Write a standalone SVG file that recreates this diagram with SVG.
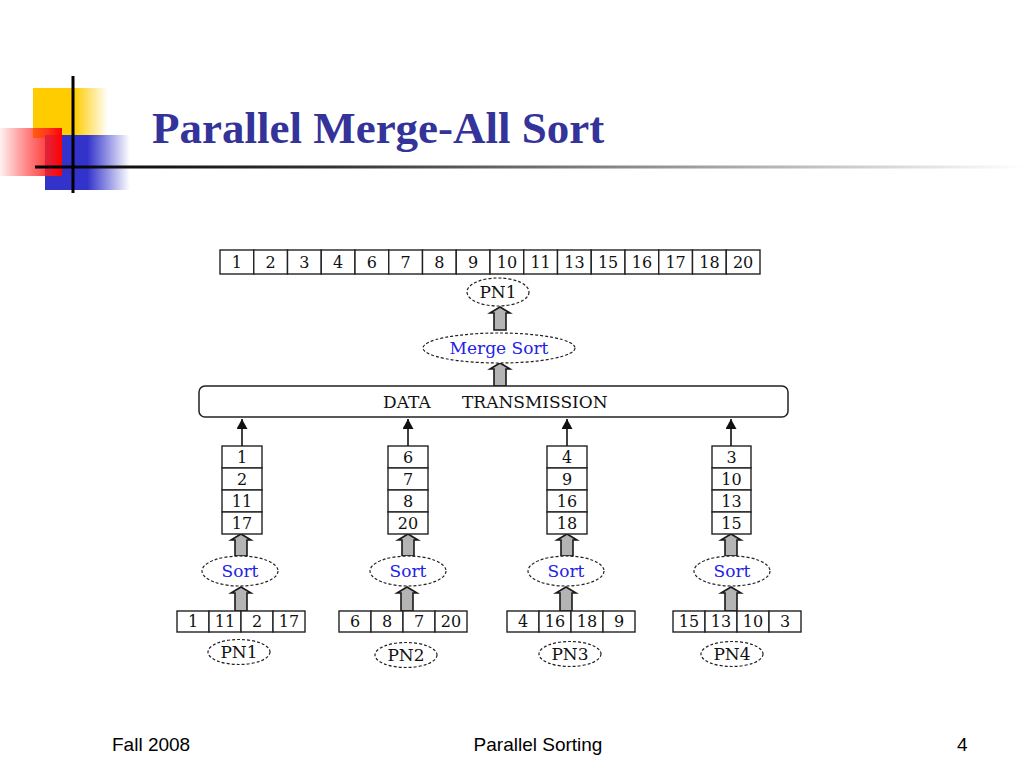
<svg xmlns="http://www.w3.org/2000/svg" width="1024" height="768" viewBox="0 0 1024 768">
<style>
.cell{fill:#fff;stroke:#222;stroke-width:1.4}
.num{font-family:"DejaVu Serif","Liberation Serif",serif;font-size:16px;fill:#111;text-anchor:middle}
.lbl{font-family:"DejaVu Serif","Liberation Serif",serif;font-size:17px;fill:#111;text-anchor:middle}
.lbls{font-family:"DejaVu Serif","Liberation Serif",serif;font-size:17px;fill:#111;text-anchor:start}
.blue{fill:#2222e6}
.oval{fill:#fff;stroke:#222;stroke-width:1.2;stroke-dasharray:3 2}
.garrow{fill:#b4b4b4;stroke:#1a1a1a;stroke-width:1.6;stroke-linejoin:miter}
.thin{stroke:#111;stroke-width:1.6;fill:none}
.foot{font-family:"Liberation Sans","DejaVu Sans",sans-serif;font-size:19px;fill:#000}
</style>
<defs>
<linearGradient id="gy" x1="0" y1="0" x2="1" y2="0"><stop offset="0" stop-color="#ffcc00"/><stop offset="0.55" stop-color="#ffcc00"/><stop offset="1" stop-color="#ffcc00" stop-opacity="0"/></linearGradient>
<linearGradient id="gb" x1="0" y1="0" x2="1" y2="0"><stop offset="0" stop-color="#3333cc"/><stop offset="0.5" stop-color="#3333cc"/><stop offset="1" stop-color="#3333cc" stop-opacity="0"/></linearGradient>
<linearGradient id="gr" x1="0" y1="0" x2="1" y2="0"><stop offset="0" stop-color="#ff0000" stop-opacity="0.05"/><stop offset="0.75" stop-color="#ff2020" stop-opacity="0.85"/><stop offset="1" stop-color="#ff0000"/></linearGradient>
<linearGradient id="gl" x1="0" y1="0" x2="1" y2="0"><stop offset="0" stop-color="#000"/><stop offset="0.3" stop-color="#333"/><stop offset="1" stop-color="#fff"/></linearGradient>
<marker id="ah" markerUnits="userSpaceOnUse" markerWidth="11" markerHeight="11" refX="10" refY="5.5" orient="auto"><path d="M0,0 L10,5.5 L0,11 z" fill="#111"/></marker>
</defs>

<g id="title-decoration">
<rect x="33" y="88" width="75" height="50" fill="url(#gy)"/>
<rect x="45" y="135" width="85" height="55" fill="url(#gb)"/>
<rect x="0" y="128" width="62" height="48" fill="url(#gr)"/>
<rect x="35" y="165.5" width="989" height="3" fill="url(#gl)"/>
<rect x="71.5" y="76" width="3" height="117" fill="#000"/>
</g>
<text x="152" y="143" font-family="'Liberation Serif','Times New Roman',serif" font-weight="bold" font-size="45" fill="#333399">Parallel Merge-All Sort</text>

<g id="connectors">
<polygon class="garrow" points="494,330 494,313 490,313 500,307 510,313 506,313 506,330"/>
<polygon class="garrow" points="494,386 494,369 490,369 500,363 510,369 506,369 506,386"/>
<line class="thin" x1="242" y1="446" x2="242" y2="419" marker-end="url(#ah)"/>
<line class="thin" x1="408" y1="446" x2="408" y2="419" marker-end="url(#ah)"/>
<line class="thin" x1="567" y1="446" x2="567" y2="419" marker-end="url(#ah)"/>
<line class="thin" x1="731" y1="446" x2="731" y2="419" marker-end="url(#ah)"/>
<polygon class="garrow" points="235,556 235,540 231,540 241,534 251,540 247,540 247,556"/>
<polygon class="garrow" points="402,556 402,540 398,540 408,534 418,540 414,540 414,556"/>
<polygon class="garrow" points="561,556 561,540 557,540 567,534 577,540 573,540 573,556"/>
<polygon class="garrow" points="725,556 725,540 721,540 731,534 741,540 737,540 737,556"/>
<polygon class="garrow" points="235,611 235,593 231,593 241,587 251,593 247,593 247,611"/>
<polygon class="garrow" points="401,611 401,593 397,593 407,587 417,593 413,593 413,611"/>
<polygon class="garrow" points="560,611 560,593 556,593 566,587 576,593 572,593 572,611"/>
<polygon class="garrow" points="725,611 725,593 721,593 731,587 741,593 737,593 737,611"/>
</g>

<g id="result-array">
<rect class="cell" x="220" y="250" width="33.75" height="24"/><text class="num" x="236.9" y="268">1</text>
<rect class="cell" x="253.75" y="250" width="33.75" height="24"/><text class="num" x="270.6" y="268">2</text>
<rect class="cell" x="287.5" y="250" width="33.75" height="24"/><text class="num" x="304.4" y="268">3</text>
<rect class="cell" x="321.25" y="250" width="33.75" height="24"/><text class="num" x="338.1" y="268">4</text>
<rect class="cell" x="355" y="250" width="33.75" height="24"/><text class="num" x="371.9" y="268">6</text>
<rect class="cell" x="388.75" y="250" width="33.75" height="24"/><text class="num" x="405.6" y="268">7</text>
<rect class="cell" x="422.5" y="250" width="33.75" height="24"/><text class="num" x="439.4" y="268">8</text>
<rect class="cell" x="456.25" y="250" width="33.75" height="24"/><text class="num" x="473.1" y="268">9</text>
<rect class="cell" x="490" y="250" width="33.75" height="24"/><text class="num" x="506.9" y="268">10</text>
<rect class="cell" x="523.75" y="250" width="33.75" height="24"/><text class="num" x="540.6" y="268">11</text>
<rect class="cell" x="557.5" y="250" width="33.75" height="24"/><text class="num" x="574.4" y="268">13</text>
<rect class="cell" x="591.25" y="250" width="33.75" height="24"/><text class="num" x="608.1" y="268">15</text>
<rect class="cell" x="625" y="250" width="33.75" height="24"/><text class="num" x="641.9" y="268">16</text>
<rect class="cell" x="658.75" y="250" width="33.75" height="24"/><text class="num" x="675.6" y="268">17</text>
<rect class="cell" x="692.5" y="250" width="33.75" height="24"/><text class="num" x="709.4" y="268">18</text>
<rect class="cell" x="726.25" y="250" width="33.75" height="24"/><text class="num" x="743.1" y="268">20</text>
</g>

<g id="pn1-top">
<ellipse class="oval" cx="498" cy="292" rx="31" ry="14"/>
<text class="lbl" x="498" y="298">PN1</text>
</g>

<g id="merge-sort">
<ellipse class="oval" cx="499" cy="348" rx="76" ry="15"/>
<text class="lbl blue" x="499" y="354">Merge Sort</text>
</g>

<g id="data-transmission">
<rect x="199" y="386" width="589" height="31" rx="6" fill="#fff" stroke="#222" stroke-width="1.5"/>
<text class="lbls" x="383" y="408">DATA</text>
<text class="lbls" x="462" y="408">TRANSMISSION</text>
</g>

<g id="sorted-1">
<rect class="cell" x="222" y="446" width="40" height="22"/><text class="num" x="242" y="463">1</text>
<rect class="cell" x="222" y="468" width="40" height="22"/><text class="num" x="242" y="485">2</text>
<rect class="cell" x="222" y="490" width="40" height="22"/><text class="num" x="242" y="507">11</text>
<rect class="cell" x="222" y="512" width="40" height="22"/><text class="num" x="242" y="529">17</text>
</g>
<g id="sorted-2">
<rect class="cell" x="388" y="446" width="40" height="22"/><text class="num" x="408" y="463">6</text>
<rect class="cell" x="388" y="468" width="40" height="22"/><text class="num" x="408" y="485">7</text>
<rect class="cell" x="388" y="490" width="40" height="22"/><text class="num" x="408" y="507">8</text>
<rect class="cell" x="388" y="512" width="40" height="22"/><text class="num" x="408" y="529">20</text>
</g>
<g id="sorted-3">
<rect class="cell" x="547" y="446" width="40" height="22"/><text class="num" x="567" y="463">4</text>
<rect class="cell" x="547" y="468" width="40" height="22"/><text class="num" x="567" y="485">9</text>
<rect class="cell" x="547" y="490" width="40" height="22"/><text class="num" x="567" y="507">16</text>
<rect class="cell" x="547" y="512" width="40" height="22"/><text class="num" x="567" y="529">18</text>
</g>
<g id="sorted-4">
<rect class="cell" x="712" y="446" width="39" height="22"/><text class="num" x="731.5" y="463">3</text>
<rect class="cell" x="712" y="468" width="39" height="22"/><text class="num" x="731.5" y="485">10</text>
<rect class="cell" x="712" y="490" width="39" height="22"/><text class="num" x="731.5" y="507">13</text>
<rect class="cell" x="712" y="512" width="39" height="22"/><text class="num" x="731.5" y="529">15</text>
</g>

<g id="sort-1"><ellipse class="oval" cx="240" cy="571" rx="38" ry="15"/><text class="lbl blue" x="240" y="577">Sort</text></g>
<g id="sort-2"><ellipse class="oval" cx="408" cy="571" rx="38" ry="15"/><text class="lbl blue" x="408" y="577">Sort</text></g>
<g id="sort-3"><ellipse class="oval" cx="566" cy="571" rx="38" ry="15"/><text class="lbl blue" x="566" y="577">Sort</text></g>
<g id="sort-4"><ellipse class="oval" cx="732" cy="571" rx="38" ry="15"/><text class="lbl blue" x="732" y="577">Sort</text></g>

<g id="input-1">
<rect class="cell" x="177" y="611" width="32" height="21"/><text class="num" x="193" y="627">1</text>
<rect class="cell" x="209" y="611" width="32" height="21"/><text class="num" x="225" y="627">11</text>
<rect class="cell" x="241" y="611" width="32" height="21"/><text class="num" x="257" y="627">2</text>
<rect class="cell" x="273" y="611" width="32" height="21"/><text class="num" x="289" y="627">17</text>
</g>
<g id="input-2">
<rect class="cell" x="339" y="611" width="32" height="21"/><text class="num" x="355" y="627">6</text>
<rect class="cell" x="371" y="611" width="32" height="21"/><text class="num" x="387" y="627">8</text>
<rect class="cell" x="403" y="611" width="32" height="21"/><text class="num" x="419" y="627">7</text>
<rect class="cell" x="435" y="611" width="32" height="21"/><text class="num" x="451" y="627">20</text>
</g>
<g id="input-3">
<rect class="cell" x="507" y="611" width="32" height="21"/><text class="num" x="523" y="627">4</text>
<rect class="cell" x="539" y="611" width="32" height="21"/><text class="num" x="555" y="627">16</text>
<rect class="cell" x="571" y="611" width="32" height="21"/><text class="num" x="587" y="627">18</text>
<rect class="cell" x="603" y="611" width="32" height="21"/><text class="num" x="619" y="627">9</text>
</g>
<g id="input-4">
<rect class="cell" x="673" y="611" width="32" height="21"/><text class="num" x="689" y="627">15</text>
<rect class="cell" x="705" y="611" width="32" height="21"/><text class="num" x="721" y="627">13</text>
<rect class="cell" x="737" y="611" width="32" height="21"/><text class="num" x="753" y="627">10</text>
<rect class="cell" x="769" y="611" width="32" height="21"/><text class="num" x="785" y="627">3</text>
</g>

<g id="pn-1"><ellipse class="oval" cx="239" cy="652" rx="31" ry="12.5"/><text class="lbl" x="239" y="658">PN1</text></g>
<g id="pn-2"><ellipse class="oval" cx="406" cy="655" rx="31" ry="12.5"/><text class="lbl" x="406" y="661">PN2</text></g>
<g id="pn-3"><ellipse class="oval" cx="570" cy="654" rx="31" ry="12.5"/><text class="lbl" x="570" y="660">PN3</text></g>
<g id="pn-4"><ellipse class="oval" cx="732" cy="654" rx="31" ry="12.5"/><text class="lbl" x="732" y="660">PN4</text></g>

<g id="footer">
<text class="foot" x="112" y="751">Fall 2008</text>
<text class="foot" x="538" y="751" text-anchor="middle">Parallel Sorting</text>
<text class="foot" x="957" y="751">4</text>
</g>
</svg>
